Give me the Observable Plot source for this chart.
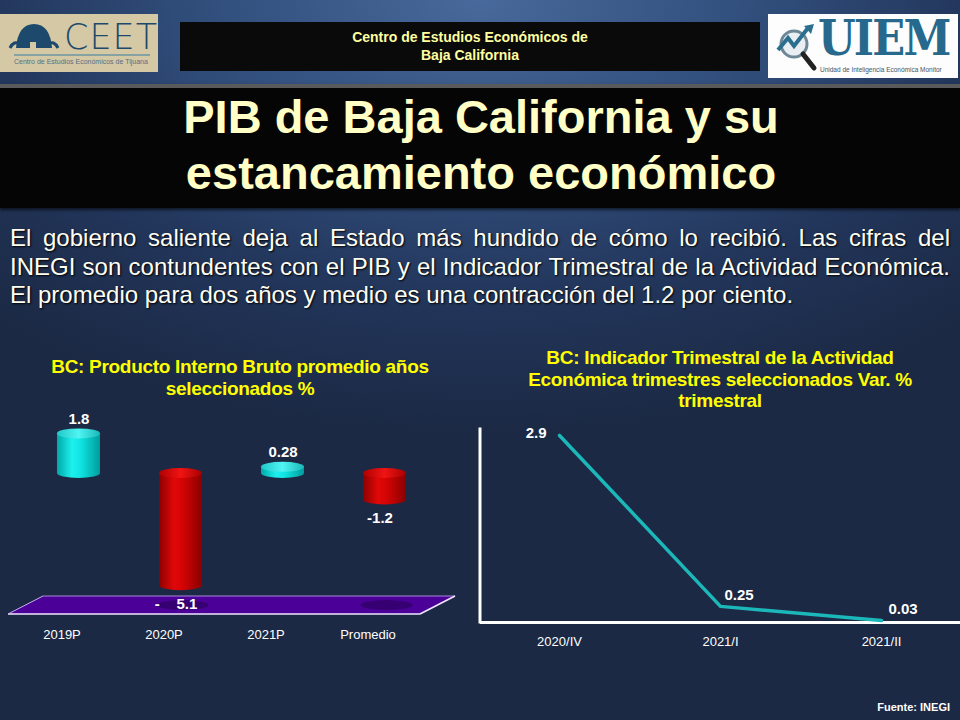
<!DOCTYPE html>
<html>
<head>
<meta charset="utf-8">
<script src="https://cdn.jsdelivr.net/npm/d3@7"></script>
<script src="https://cdn.jsdelivr.net/npm/@observablehq/plot@0.6"></script>
<style>
  html, body { margin: 0; padding: 0; }
  body { width: 960px; height: 720px; overflow: hidden; font-family: "Liberation Sans", Arial, sans-serif; }
  #slide { position: relative; width: 960px; height: 720px; overflow: hidden;
    background: radial-gradient(ellipse 75% 60% at 50% 0%, #48699b 0%, #304d7a 40%, #22355a 70%, #1b2944 100%); }
  .abs { position: absolute; }
  #ceet { left: 0; top: 14px; width: 158px; height: 58px; background: #d5c8a4; }
  #hdr { left: 180px; top: 22px; width: 580px; height: 49px; background: #0a0a0a; color: #ffffa0;
    font-weight: bold; font-size: 14px; line-height: 18px; text-align: center; padding-top: 6px; box-sizing: border-box; }
  #uiem { left: 768px; top: 14px; width: 190px; height: 64px; background: #fdfdfd; }
  #banner { left: 0; top: 84px; width: 960px; height: 124px; background: #050505;
    border-top: 4px solid #5a5a5a; box-sizing: border-box; box-shadow: 0 2px 3px rgba(0,0,0,0.6); }
  #title { left: 0; top: 89px; width: 962px; text-align: center; color: #ffffc6; font-weight: bold;
    font-size: 47px; line-height: 56px; }
  .para { left: 10px; width: 940px; color: #fffff4; font-size: 24px; line-height: 28px; text-shadow: 1px 1px 2px #000; white-space: nowrap; }
  .just { text-align: justify; text-align-last: justify; white-space: normal; }
  .ctitle { color: #ffff00; font-weight: bold; font-size: 19px; line-height: 21.5px; text-align: center; letter-spacing: -0.3px; }
  #fuente { right: 10px; top: 701px; color: #fff; font-weight: bold; font-size: 11px; }
</style>
</head>
<body>
<div id="slide">
  <div id="ceet" class="abs">
    <svg width="158" height="58" style="position:absolute;left:0;top:0">
      <path d="M16 34 Q18 10 34 10 Q50 10 52 34 Z" fill="#1d4a6c"/>
      <path d="M10 34 Q14 26 20 30 M58 34 Q54 26 48 30" stroke="#1d4a6c" stroke-width="3" fill="none"/>
      <rect x="30" y="28" width="6" height="6" fill="#d5c8a4"/>
      <line x1="14" y1="41" x2="150" y2="41" stroke="#3b7ca0" stroke-width="1.2"/>
    </svg>
    <div class="abs" style="left:64px;top:3px;font-size:35px;color:#1d4a6c;letter-spacing:1px;font-family:'DejaVu Sans',sans-serif;font-weight:200;">CEET</div>
    <div class="abs" style="left:14px;top:44px;font-size:7px;color:#566f86;white-space:nowrap">Centro de Estudios Económicos de Tijuana</div>
  </div>
  <div id="hdr" class="abs">Centro de Estudios Económicos de<br>Baja California</div>
  <div id="uiem" class="abs">
    <svg width="50" height="64" style="position:absolute;left:0;top:0">
      <circle cx="26" cy="30" r="13" fill="#e8eef2" stroke="#6d8796" stroke-width="3"/>
      <line x1="35" y1="40" x2="46" y2="54" stroke="#222" stroke-width="5" stroke-linecap="round"/>
      <polyline points="10,36 20,24 26,32 40,14" fill="none" stroke="#2b6f90" stroke-width="4"/>
      <polygon points="36,12 46,10 43,20" fill="#2b6f90"/>
    </svg>
    <div class="abs" style="left:50px;top:0px;font-size:48px;line-height:48px;font-weight:bold;color:#26698c;font-family:'DejaVu Serif',serif;letter-spacing:-2px;transform:scaleX(0.9);transform-origin:left top">UIEM</div>
    <div class="abs" style="left:52px;top:52px;font-size:6.5px;line-height:8px;color:#3a5568;white-space:nowrap">Unidad de Inteligencia Económica Monitor</div>
  </div>
  <div id="banner" class="abs"></div>
  <div id="title" class="abs">PIB de Baja California y su<br>estancamiento económico</div>

  <div class="abs para just" style="top:224px;">El gobierno saliente deja al Estado más hundido de cómo lo recibió. Las cifras del</div>
  <div class="abs para just" style="top:253px;">INEGI son contundentes con el PIB y el Indicador Trimestral de la Actividad Económica.</div>
  <div class="abs para" style="top:281px;">El promedio para dos años y medio es una contracción del 1.2 por ciento.</div>

  <div class="abs ctitle" style="left:20px;width:440px;top:356px;">BC: Producto Interno Bruto promedio años<br>seleccionados %</div>
  <div class="abs ctitle" style="left:500px;width:440px;top:347px;">BC: Indicador Trimestral de la Actividad<br>Económica trimestres seleccionados Var. %<br>trimestral</div>

  <svg class="abs" style="left:0;top:590px" width="470" height="30">
    <polygon points="8,24 43,6 455,6 420,24" fill="#4b0098"/>
    <line x1="43" y1="6" x2="455" y2="6" stroke="#a98ad8" stroke-width="1"/>
    <line x1="8" y1="24" x2="420" y2="24" stroke="#efe6ff" stroke-width="1.6"/>
    <line x1="420" y1="24" x2="455" y2="6" stroke="#efe6ff" stroke-width="1.6"/>
    <line x1="8" y1="24" x2="43" y2="6" stroke="#c8b2f0" stroke-width="1"/>
  </svg>
  <div id="bars" class="abs" style="left:0;top:400px;"></div>
  <div id="line" class="abs" style="left:470px;top:410px;"></div>
  <div id="fuente" class="abs">Fuente: INEGI</div>
</div>
<script>
// ---- Data: left chart (PIB promedio años seleccionados %) ----
const pibCategories = ["2019P", "2020P", "2021P", "Promedio"];
const pibValues = [1.8, -5.1, 0.28, -1.2];
const pibLabels = ["1.8", "-\u00a0\u00a0\u00a0\u00a05.1", "0.28", "-1.2"];

// ---- Data: right chart (ITAEE var. % trimestral) ----
const itaeeQuarters = ["2020/IV", "2021/I", "2021/II"];
const itaeeValues = [2.9, 0.25, 0.03];
const itaeeLabels = ["2.9", "0.25", "0.03"];

const font = "Liberation Sans, Arial, sans-serif";
const pib = pibCategories.map((c, i) => ({cat: c, value: pibValues[i], label: pibLabels[i]}));
const itaee = itaeeQuarters.map((q, i) => ({q, value: itaeeValues[i], label: itaeeLabels[i], i}));

const svgNS = "http://www.w3.org/2000/svg";
function el(name, attrs) {
  const e = document.createElementNS(svgNS, name);
  for (const k in attrs) e.setAttribute(k, attrs[k]);
  return e;
}
function gradient(id, stops) {
  const g = el("linearGradient", {id, x1: "0", y1: "0", x2: "1", y2: "0"});
  for (const [o, c] of stops) g.appendChild(el("stop", {offset: o, "stop-color": c}));
  return g;
}
const defsMark = () => {
  const defs = el("defs", {});
  defs.appendChild(gradient("cyanBody", [[0, "#00a8a8"], [0.35, "#1ef0ee"], [0.55, "#10e4e2"], [1, "#009c9c"]]));
  defs.appendChild(gradient("cyanTop", [[0, "#20c8c8"], [0.5, "#50f4f2"], [1, "#1ab8b8"]]));
  defs.appendChild(gradient("redBody", [[0, "#8e0000"], [0.35, "#e00808"], [0.55, "#d40404"], [1, "#8a0000"]]));
  defs.appendChild(gradient("redTop", [[0, "#b00000"], [0.5, "#f01414"], [1, "#a80000"]]));
  return defs;
};
// shadows cast on the floor under the negative cylinders
const shadowMark = (index, scales) => {
  const g = el("g", {});
  for (const d of pib) {
    if (d.value >= 0) continue;
    const cx = scales.x(d.cat) + scales.x.bandwidth() / 2 + 2;
    g.appendChild(el("ellipse", {cx, cy: 205, rx: 26, ry: 5, fill: "#35006e", opacity: 0.9}));
  }
  return g;
};

const bw = 43;
const bars = Plot.plot({
  width: 470, height: 250,
  marginTop: 0, marginLeft: 0, marginRight: 0, marginBottom: 30,
  style: {background: "transparent", color: "#fff", fontFamily: font, overflow: "visible"},
  x: {domain: pibCategories, range: [25.6, 436.4], paddingInner: 0.58, paddingOuter: 0.29, label: null},
  y: {domain: [-7, 3], range: [227, 7], axis: null},
  marks: [
    defsMark,
    shadowMark,
    // bottom cap
    Plot.barY(pib, {x: "cat", y1: d => Math.min(d.value, 0), y2: d => Math.min(d.value, 0), insetTop: -5, insetBottom: -5,
      fill: "url(#cyanBody)", rx: bw / 2, ry: 5, filter: d => d.value >= 0}),
    Plot.barY(pib, {x: "cat", y1: d => Math.min(d.value, 0), y2: d => Math.min(d.value, 0), insetTop: -5, insetBottom: -5,
      fill: "url(#redBody)", rx: bw / 2, ry: 5, filter: d => d.value < 0}),
    // body
    Plot.barY(pib, {x: "cat", y1: d => Math.min(d.value, 0), y2: d => Math.max(d.value, 0), fill: "url(#cyanBody)", filter: d => d.value >= 0}),
    Plot.barY(pib, {x: "cat", y1: d => Math.min(d.value, 0), y2: d => Math.max(d.value, 0), fill: "url(#redBody)", filter: d => d.value < 0}),
    // top cap
    Plot.barY(pib, {x: "cat", y1: d => Math.max(d.value, 0), y2: d => Math.max(d.value, 0), insetTop: -5, insetBottom: -5,
      fill: "url(#cyanTop)", rx: bw / 2, ry: 5, filter: d => d.value >= 0}),
    Plot.barY(pib, {x: "cat", y1: d => Math.max(d.value, 0), y2: d => Math.max(d.value, 0), insetTop: -5, insetBottom: -5,
      fill: "url(#redTop)", rx: bw / 2, ry: 5, filter: d => d.value < 0}),
    // value labels
    Plot.text(pib, {x: "cat", y: "value", text: "label", dy: -15, fill: "#fff", fontSize: 15, fontWeight: "bold",
      filter: d => d.value >= 0}),
    Plot.text(pib, {x: "cat", y: "value", text: "label", dy: 18, dx: -5, fill: "#fff", fontSize: 15, fontWeight: "bold",
      filter: d => d.value < 0}),
    Plot.axisX({tickSize: 0, tickPadding: 9, dx: -17, fontSize: 13, fill: "#fff"})
  ]
});
document.getElementById("bars").appendChild(bars);

// vertical axis line of the line chart
const vAxisMark = (index, scales, values, dims) => el("line", {
  x1: dims.marginLeft, x2: dims.marginLeft, y1: scales.y(3) - 1, y2: scales.y(0) + 1.5,
  stroke: "#fff", "stroke-width": 3
});

const line = Plot.plot({
  width: 490, height: 250,
  marginTop: 0, marginLeft: 10, marginRight: 0, marginBottom: 38,
  style: {background: "transparent", color: "#fff", fontFamily: font, overflow: "visible"},
  x: {type: "point", domain: itaeeQuarters, range: [89, 411], padding: 0, label: null},
  y: {domain: [0, 3], range: [212, 18.5], axis: null},
  marks: [
    Plot.ruleY([0], {stroke: "#fff", strokeWidth: 3}),
    vAxisMark,
    Plot.line(itaee, {x: "q", y: "value", stroke: "#1bb7b9", strokeWidth: 3.5}),
    Plot.text(itaee, {x: "q", y: "value", text: "label", textAnchor: "end", dx: -13, dy: -2, fill: "#fff",
      fontSize: 15, fontWeight: "bold", filter: d => d.i === 0}),
    Plot.text(itaee, {x: "q", y: "value", text: "label", textAnchor: "start", dx: 4, dy: -11, fill: "#fff",
      fontSize: 15, fontWeight: "bold", filter: d => d.i === 1}),
    Plot.text(itaee, {x: "q", y: "value", text: "label", textAnchor: "start", dx: 7, dy: -11, fill: "#fff",
      fontSize: 15, fontWeight: "bold", filter: d => d.i === 2}),
    Plot.axisX({tickSize: 0, tickPadding: 14, fontSize: 13, fill: "#fff"})
  ]
});
document.getElementById("line").appendChild(line);
</script>
</body>
</html>
